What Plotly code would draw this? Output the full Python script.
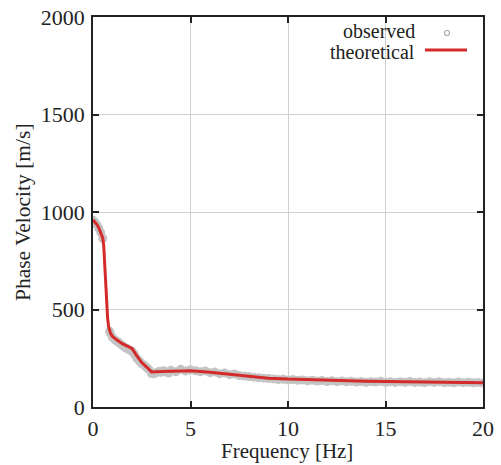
import plotly.graph_objects as go

# theoretical dispersion curve
freq_theo = [0, 0.1, 0.2, 0.3, 0.4, 0.5, 0.55, 0.6, 0.65, 0.7, 0.75, 0.8, 0.85, 0.9, 1.0, 1.1,
             1.25, 1.5, 1.75, 2.0, 2.25, 2.5, 2.75, 3.0, 3.5, 4.0, 5.0, 6.0, 7.0, 8.0, 9.0,
             10.0, 12.0, 14.0, 16.0, 18.0, 20.0]
vel_theo = [960, 950, 936, 918, 896, 866, 826, 730, 620, 525, 455, 412, 390, 378, 362, 352,
            342, 325, 312, 300, 262, 228, 205, 180, 182, 183, 186, 178, 168, 157, 148,
            143, 137, 132, 129, 127, 125]

# observed phase velocities
freq_obs = [0.0, 0.1, 0.2, 0.3, 0.4, 0.5, 0.85, 0.9, 1.0, 1.125, 1.25, 1.375, 1.5, 1.625, 1.75, 1.875,
            2.0, 2.125, 2.25, 2.375, 2.5, 2.625, 2.75, 2.875, 3.0, 3.125, 3.25, 3.375, 3.5, 3.625,
            3.75, 3.875, 4.0, 4.25, 4.5, 4.75, 5.0, 5.25, 5.5, 5.75, 6.0, 6.25, 6.5, 6.75, 7.0,
            7.25, 7.5, 7.75, 8.0, 8.25, 8.5, 8.75, 9.0, 9.25, 9.5, 9.75, 10.0, 10.25, 10.5, 10.75,
            11.0, 11.25, 11.5, 11.75, 12.0, 12.25, 12.5, 12.75, 13.0, 13.25, 13.5, 13.75, 14.0,
            14.25, 14.5, 14.75, 15.0, 15.25, 15.5, 15.75, 16.0, 16.25, 16.5, 16.75, 17.0, 17.25,
            17.5, 17.75, 18.0, 18.25, 18.5, 18.75, 19.0, 19.25, 19.5, 19.75, 20.0]
vel_obs = [958, 948, 934, 916, 894, 864, 388, 376, 356, 344, 336, 326, 316, 306, 300, 292,
           286, 270, 250, 236, 222, 214, 202, 192, 172, 170, 176, 182, 178, 186,
           180, 174, 188, 181, 193, 184, 191, 186, 181, 185, 176, 179, 171, 174, 166,
           169, 161, 159, 156, 153, 150, 148, 146, 144, 141, 142, 139, 141, 137, 139,
           134, 137, 133, 136, 131, 134, 130, 133, 129, 132, 128, 131, 127, 130, 128,
           132, 127, 129, 126, 130, 127, 131, 126, 128, 125, 129, 126, 130, 125, 127,
           124, 128, 125, 127, 124, 126, 123]

x_ticks = [0, 5, 10, 15, 20]
y_ticks = [0, 500, 1000, 1500, 2000]
legend_labels = ["observed", "theoretical"]
x_title = "Frequency [Hz]"
y_title = "Phase Velocity [m/s]"

FONT = "Liberation Serif"
INK = "#222222"
GREY = "#c4c4c4"
RED = "#d42a2a"

fig = go.Figure()
fig.add_trace(go.Scatter(
    x=freq_obs, y=vel_obs, mode="markers", name=legend_labels[0], showlegend=False,
    marker=dict(symbol="circle", size=9, color=GREY, line=dict(width=0)),
))
fig.add_trace(go.Scatter(
    x=freq_theo, y=vel_theo, mode="lines", name=legend_labels[1], showlegend=False,
    line=dict(color=RED, width=3),
))

axis_common = dict(
    showline=True, linecolor=INK, linewidth=1.5, mirror="ticks",
    ticks="inside", ticklen=6, tickwidth=1.5, tickcolor=INK,
    showgrid=True, gridcolor="#d0d0d0", gridwidth=1, zeroline=False,
    tickfont=dict(family=FONT, size=22, color=INK), automargin=False,
)
fig.update_xaxes(range=[0, 20], tickvals=x_ticks, ticklabelstandoff=1, **axis_common)
fig.update_yaxes(range=[0, 2000], tickvals=y_ticks, ticklabelstandoff=2, **axis_common)


def px(x):
    return (x - 93) / 390


def py(y):
    return 1 - (y - 17) / 390


# axis titles
fig.add_annotation(xref="paper", yref="paper", x=px(287), y=py(451),
                   xanchor="center", yanchor="middle", text=x_title, showarrow=False,
                   font=dict(family=FONT, size=21, color=INK))
fig.add_annotation(xref="paper", yref="paper", x=px(23), y=py(212),
                   xanchor="center", yanchor="middle", text=y_title, showarrow=False,
                   textangle=-90, font=dict(family=FONT, size=21.5, color=INK))

# legend (text left, symbol right as in the reference)
fig.add_annotation(xref="paper", yref="paper", x=px(417), y=py(31.5),
                   xanchor="right", yanchor="middle", text=legend_labels[0], showarrow=False,
                   font=dict(family=FONT, size=20, color=INK))
fig.add_annotation(xref="paper", yref="paper", x=px(417), y=py(52),
                   xanchor="right", yanchor="middle", text=legend_labels[1], showarrow=False,
                   font=dict(family=FONT, size=20, color=INK))
fig.add_shape(type="circle", xref="paper", yref="paper",
              x0=px(444.5), x1=px(449.5), y0=py(35.5), y1=py(30.5),
              line=dict(color="#aaaaaa", width=1.2), fillcolor="rgba(0,0,0,0)")
fig.add_shape(type="line", xref="paper", yref="paper",
              x0=px(425), x1=px(467), y0=py(50), y1=py(50),
              line=dict(color=RED, width=3))

fig.update_layout(
    width=501, height=465,
    margin=dict(l=93, r=18, t=17, b=58),
    plot_bgcolor="white", paper_bgcolor="white",
    font=dict(family=FONT, size=20, color=INK),
    showlegend=False,
)
fig.write_html("out.html")
